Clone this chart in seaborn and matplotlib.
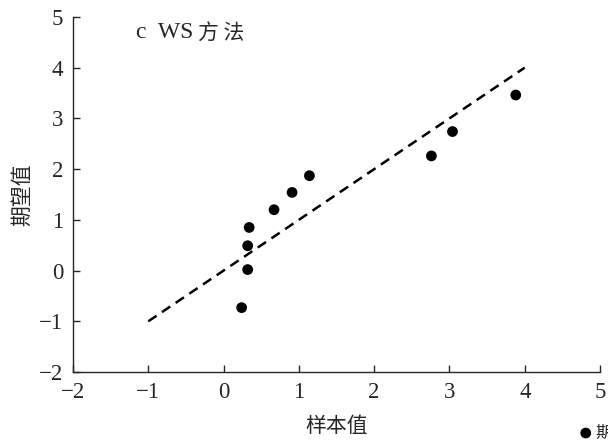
import matplotlib
matplotlib.use('Agg')
import matplotlib.pyplot as plt
import seaborn as sns
import pandas as pd

# data
sample_vals = [0.24, 0.32, 0.32, 0.34, 0.67, 0.91, 1.14, 2.76, 3.04, 3.88]
expected_vals = [-0.73, 0.02, 0.49, 0.85, 1.20, 1.54, 1.87, 2.26, 2.74, 3.46]
ref_x = [-1, 4]
ref_y = [-1, 4]
x_ticks = [-2, -1, 0, 1, 2, 3, 4, 5]
y_ticks = [-2, -1, 0, 1, 2, 3, 4, 5]

sns.set_style("ticks")
plt.rcParams['font.family'] = ['Liberation Serif', 'Noto Sans CJK SC']

df = pd.DataFrame({"x": sample_vals, "y": expected_vals})
line_df = pd.DataFrame({"x": ref_x, "y": ref_y})

fig = plt.figure(figsize=(6.08, 4.44), dpi=100)
ax = fig.add_axes([0.12, 0.162, 0.867, 0.8])

sns.lineplot(data=line_df, x="x", y="y", ax=ax, color="black",
             linewidth=1.8, linestyle=(0, (4, 2.6)))
sns.scatterplot(data=df, x="x", y="y", ax=ax, color="black", s=60,
                edgecolor="none", label="期望值", legend=False)

ax.set_xlim(-2, 5)
ax.set_ylim(-2, 5)
ax.set_xticks(x_ticks)
ax.set_yticks(y_ticks)
ax.set_xticklabels([str(t).replace('-', '−') for t in x_ticks])
ax.set_yticklabels([str(t).replace('-', '−') for t in y_ticks])
ax.tick_params(direction='in', length=5, width=1, labelsize=16.5, pad=7)
for s in ['top', 'right']:
    ax.spines[s].set_visible(False)
for s in ['left', 'bottom']:
    ax.spines[s].set_linewidth(1)

ax.set_xlabel("样本值", fontsize=15, family=['Noto Sans CJK SC'], labelpad=9)
ax.set_ylabel("期望值", fontsize=15, family=['Noto Sans CJK SC'], labelpad=4)

ax.text(0.12, 0.955, "c  WS", transform=ax.transAxes, fontsize=17,
        ha='left', va='center', family=['Liberation Serif'])
ax.text(0.238, 0.955, "方 法", transform=ax.transAxes, fontsize=15,
        ha='left', va='center', family=['Noto Sans CJK SC'], fontweight='medium')

handles, labels = ax.get_legend_handles_labels()
fig.legend(handles, labels, loc='center left', bbox_to_anchor=(0.925, 0.025),
           frameon=False, handletextpad=0.1, handlelength=1,
           prop={'family': 'Noto Sans CJK SC', 'size': 12})

fig.savefig("out.png", dpi=100)
